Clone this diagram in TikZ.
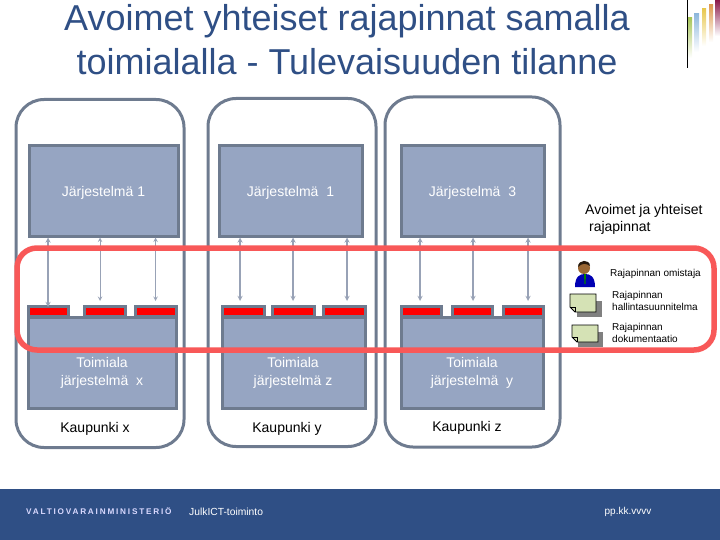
\documentclass[tikz,border=0pt]{standalone}
\usepackage{fontspec}
\setmainfont{Liberation Sans}
\newfontfamily\logofont[LetterSpace=22]{Liberation Sans}
\usetikzlibrary{positioning}
\definecolor{bandblue}{HTML}{2F4F85}
\definecolor{edgegray}{HTML}{6E7B8F}
\definecolor{boxfill}{HTML}{96A5C2}
\definecolor{linkgray}{HTML}{98A2B6}
\definecolor{ringred}{HTML}{F85858}
\definecolor{notegreen}{HTML}{D5E2B5}
\definecolor{logogreen}{HTML}{A8C65A}
\definecolor{logoblue}{HTML}{8FB8DC}
\definecolor{logoyellow}{HTML}{E8C850}
\definecolor{logoorange}{HTML}{DE9A50}
\definecolor{logowine}{HTML}{8B1A4A}
\tikzset{
    panel/.style={draw=edgegray,line width=3pt,rounded corners=28pt,minimum height=348pt,inner sep=0pt},
    sysbox/.style={draw=edgegray,fill=boxfill,line width=3pt,inner sep=0pt},
    tab/.style={draw=edgegray,fill=red,line width=3pt,inner sep=0pt,minimum height=10pt},
    apilink/.style={<->,>=stealth,draw=linkgray,line width=1.3pt},
    boxtext/.style={text=white,font=\fontsize{14}{18}\selectfont,align=center},
    citytext/.style={font=\fontsize{14}{16}\selectfont},
    sidetext/.style={font=\fontsize{10}{12}\selectfont,align=left,anchor=west},
    notesheet/.style={draw=black,fill=notegreen,line width=0.8pt},
    bar/.style={top color=#1,bottom color=white}
}
\begin{document}
\begin{tikzpicture}[x=1pt,y=-1pt]
    \useasboundingbox (0,0) rectangle (720,540);

    % Title
    \node[text=bandblue,font=\fontsize{36}{44}\selectfont,align=center] (title) at (347,40)
        {Avoimet yhteiset rajapinnat samalla\\toimialalla - Tulevaisuuden tilanne};

    % Logo
    \shade[bar=logogreen] (688,18) rectangle (692,58);
    \shade[bar=logoblue] (694,14) rectangle (699,52);
    \shade[bar=logoyellow] (702,9) rectangle (706,46);
    \shade[bar=logoorange] (709,5) rectangle (713,42);
    \shade[bar=logowine] (715,0) rectangle (720,36);
    \draw[black,line width=1pt] (687,0) -- (687,68);

    % Footer
    \fill[bandblue] (0,489) rectangle (720,540);
    \node[text=blue!15!white,font=\logofont\bfseries\fontsize{8.2}{10}\selectfont,anchor=west,inner sep=0pt] (ministry) at (26,511) {VALTIOVARAINMINISTERIÖ};
    \node[text=white,font=\fontsize{10.3}{12}\selectfont,anchor=west,inner sep=0pt] (unit) at (189,511.5) {JulkICT-toiminto};
    \node[text=white,font=\fontsize{10}{12}\selectfont] (date) at (628,511.5) {pp.kk.vvvv};

    % Cities
    \node[panel,minimum width=168pt] (panelA) at (100,273.5) {};
    \node[panel,minimum width=168pt] (panelB) at (292,272.5) {};
    \node[panel,minimum width=175pt,minimum height=350pt] (panelC) at (472.5,272) {};

    % Upper systems
    \foreach \name/\x/\w in {A/103.5/149,B/290.5/143,C/472.5/143}
        \node[sysbox,minimum width=\w pt,minimum height=90pt] (sys\name) at (\x,191) {};
    \node[boxtext] (sysAtext) at (103.5,192.5) {Järjestelmä 1};
    \node[boxtext] (sysBtext) at (290.5,192.5) {Järjestelmä\ \ 1};
    \node[boxtext] (sysCtext) at (472.5,192.5) {Järjestelmä\ \ 3};

    % Lower systems
    \foreach \name/\x/\w in {A/102/148,B/293.5/143,C/472.5/142}
        \node[sysbox,minimum width=\w pt,minimum height=91pt] (low\name) at (\x,363) {};

    % Interface tabs
    \foreach \name/\x/\w in {A1/48/40,A2/104.5/41,A3/155.5/41,B1/243/42,B2/293/42,B3/344/42,C1/421/40,C2/472/40,C3/523/40}
        \node[tab,minimum width=\w pt] (tab\name) at (\x,311.5) {};

    % Links
    \draw[apilink] (sysA.south -| tabA1.north) -- ([yshift=-2pt]tabA1.north);
    \draw[apilink,line width=1pt] ([xshift=-4.5pt]sysA.south -| tabA2.north) -- ([xshift=-4.5pt,yshift=4pt]tabA2.north);
    \draw[apilink,line width=1pt] (sysA.south -| tabA3.north) -- ([yshift=4pt]tabA3.north);
    \draw[apilink] ([xshift=-3pt]sysB.south -| tabB1.north) -- ([xshift=-3pt,yshift=4pt]tabB1.north);
    \draw[apilink] (sysB.south -| tabB2.north) -- ([yshift=4pt]tabB2.north);
    \draw[apilink] ([xshift=3pt]sysB.south -| tabB3.north) -- ([xshift=3pt,yshift=4pt]tabB3.north);
    \draw[apilink] ([xshift=-1pt]sysC.south -| tabC1.north) -- ([xshift=-1pt,yshift=4pt]tabC1.north);
    \draw[apilink] ([xshift=1pt]sysC.south -| tabC2.north) -- ([xshift=1pt,yshift=4pt]tabC2.north);
    \draw[apilink] ([xshift=5pt]sysC.south -| tabC3.north) -- ([xshift=5pt,yshift=4pt]tabC3.north);

    % Open interfaces ring
    \node[draw=ringred,line width=5.5pt,rounded corners=20pt,minimum width=697pt,minimum height=102pt,inner sep=0pt] (ring) at (365.5,299) {};

    % Texts in lower systems
    \node[boxtext] (lowAtext) at (102,373) {Toimiala\\järjestelmä\ \ x};
    \node[boxtext] (lowBtext) at (293,373) {Toimiala\\järjestelmä z};
    \node[boxtext] (lowCtext) at (472,373) {Toimiala\\järjestelmä\ \ y};
    \node[citytext] (cityA) at (95,428.5) {Kaupunki x};
    \node[citytext] (cityB) at (287,428.5) {Kaupunki y};
    \node[citytext] (cityC) at (467,427.5) {Kaupunki z};

    % Legend
    \node[font=\fontsize{14}{17}\selectfont,align=left,anchor=west,inner sep=0pt] (opentext) at (585,219.5) {Avoimet ja yhteiset\\\ rajapinnat};
    \node[sidetext,inner sep=0pt] (owner) at (610,273.5) {Rajapinnan omistaja};
    \node[sidetext,inner sep=0pt] (plan) at (612,301) {Rajapinnan\\hallintasuunnitelma};
    \node[sidetext,inner sep=0pt] (docs) at (612,332.5) {Rajapinnan\\dokumentaatio};

    % Owner icon
    \fill[blue!70!black] (575,287) .. controls (575,276) and (580,274) .. (585,274) .. controls (590,274) and (595,276) .. (595,287) -- cycle;
    \fill[green!50!black] (584,274) -- (586,274) -- (585.5,284) -- (584.5,284) -- cycle;
    \fill[brown!80!black] (584,268) circle (6pt);
    \fill[black!80!brown] (578,267) .. controls (578,259) and (590,259) .. (590,266) .. controls (586,263) and (582,263) .. (578,267) -- cycle;

    % Note icons
    \fill[gray] (577,301) rectangle (602,317);
    \draw[notesheet] (570,294) -- (596,294) -- (596,312) -- (575,312) -- (570,307) -- cycle;
    \draw[line width=0.6pt] (570,307) -- (575,307) -- (575,312);
    \fill[gray] (578,332) rectangle (603,347);
    \draw[notesheet] (572,325) -- (598,325) -- (598,342) -- (577,342) -- (572,337) -- cycle;
    \draw[line width=0.6pt] (572,337) -- (577,337) -- (577,342);
\end{tikzpicture}
\end{document}
